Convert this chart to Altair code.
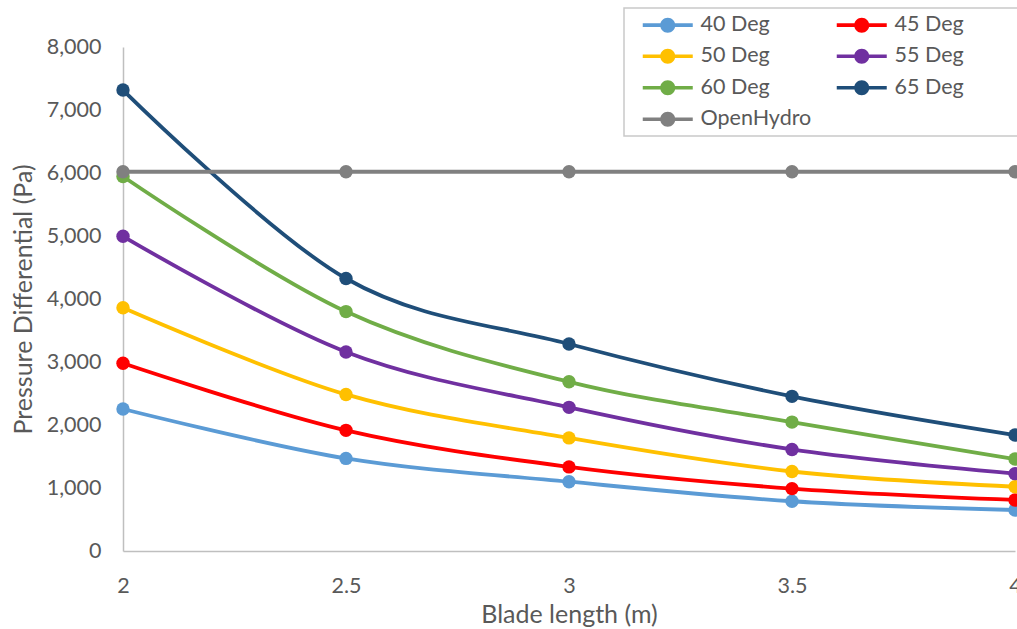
import altair as alt
import pandas as pd

# Blade length (m) on the x axis
blade_length = [2, 2.5, 3, 3.5, 4]

# Pressure differential (Pa) for each blade pitch angle
deg_40 = [2254, 1470, 1100, 790, 651]
deg_45 = [2980, 1915, 1335, 990, 810]
deg_50 = [3860, 2485, 1795, 1262, 1020]
deg_55 = [4995, 3160, 2280, 1612, 1228]
deg_60 = [5945, 3800, 2686, 2046, 1460]
deg_65 = [7317, 4325, 3286, 2455, 1841]
open_hydro = [6020, 6020, 6020, 6020, 6020]

series_names = ["40 Deg", "45 Deg", "50 Deg", "55 Deg", "60 Deg", "65 Deg", "OpenHydro"]
series_values = [deg_40, deg_45, deg_50, deg_55, deg_60, deg_65, open_hydro]
series_colors = ["#5B9BD5", "#FF0000", "#FFC000", "#7030A0", "#70AD47", "#1F4E79", "#808080"]

y_ticks = [0, 1000, 2000, 3000, 4000, 5000, 6000, 7000, 8000]

rows = []
for name, values in zip(series_names, series_values):
    for x_val, y_val in zip(blade_length, values):
        rows.append({"blade": x_val, "pressure": y_val, "series": name})
df = pd.DataFrame(rows)

FONT = "Lato"
TEXT = "#595959"
AXIS_LINE = "#bfbfbf"

# legend marker: a short line with a dot in the middle (drawn wider than the
# nominal symbol box so the entries stay compact vertically)
marker_path = (
    "M-2.5,-0.18L2.5,-0.18L2.5,0.18L-2.5,0.18Z"
    "M0.75,0A0.75,0.75 0 1 1 -0.75,0A0.75,0.75 0 1 1 0.75,0Z"
)

# entries of the right-hand legend column get trailing room before the border
# (a zero-width space at the end keeps the padding from being trimmed)
right_column = ["45 Deg", "55 Deg", "65 Deg"]
trailing_room = "\u00a0" * 9 + "\u200b"
label_expr = (
    "indexof(" + str(right_column) + ", datum.label) >= 0 ? "
    "datum.label + '" + trailing_room + "' : datum.label"
)

x_enc = alt.X(
    "blade:Q",
    scale=alt.Scale(domain=[2, 4], nice=False, zero=False),
    axis=alt.Axis(
        values=blade_length,
        format="~g",
        title="Blade length (m)",
        titleY=71,
        titleBaseline="alphabetic",
        labelPadding=24,
        labelFlush=False,
    ),
)
y_enc = alt.Y(
    "pressure:Q",
    scale=alt.Scale(domain=[0, 8000], nice=False),
    axis=alt.Axis(
        values=y_ticks,
        format=",.0f",
        title="Pressure Differential (Pa)",
        titleX=-92,
        titleBaseline="alphabetic",
        labelPadding=22,
        labelFlush=False,
    ),
)
color_scale = alt.Scale(domain=series_names, range=series_colors)

lines = alt.Chart(df).mark_line(
    interpolate="cardinal", tension=0, strokeWidth=3.8
).encode(
    x=x_enc,
    y=y_enc,
    color=alt.Color("series:N", scale=color_scale, legend=None),
)

points = alt.Chart(df).mark_circle(size=180, opacity=1).encode(
    x=x_enc,
    y=y_enc,
    color=alt.Color(
        "series:N",
        scale=color_scale,
        legend=alt.Legend(
            title=None,
            orient="none",
            legendX=501,
            legendY=-39,
            direction="horizontal",
            columns=2,
            columnPadding=12,
            rowPadding=8.5,
            symbolType=marker_path,
            symbolSize=400,
            symbolStrokeWidth=0,
            symbolOffset=27,
            labelFont=FONT,
            labelFontSize=21.5,
            labelColor=TEXT,
            labelOffset=22,
            labelExpr=label_expr,
            padding=6,
            strokeColor="#c9c9c9",
            fillColor="white",
        ),
    ),
)

chart = (
    alt.layer(lines, points)
    .resolve_legend(color="independent")
    .properties(
        width=892,
        height=504,
        padding={"left": 123, "top": 47, "right": 2, "bottom": 78},
        autosize=alt.AutoSizeParams(type="none"),
        background="white",
    )
    .configure_view(stroke=None)
    .configure_axis(
        grid=False,
        ticks=False,
        domainColor=AXIS_LINE,
        domainWidth=1.5,
        labelFont=FONT,
        labelFontSize=21.5,
        labelColor=TEXT,
        titleFont=FONT,
        titleFontSize=25,
        titleColor=TEXT,
        titleFontWeight="normal",
    )
    .configure_legend(strokeWidth=1.5)
)

chart.save("out.html", embed_options={"renderer": "svg", "actions": False})
